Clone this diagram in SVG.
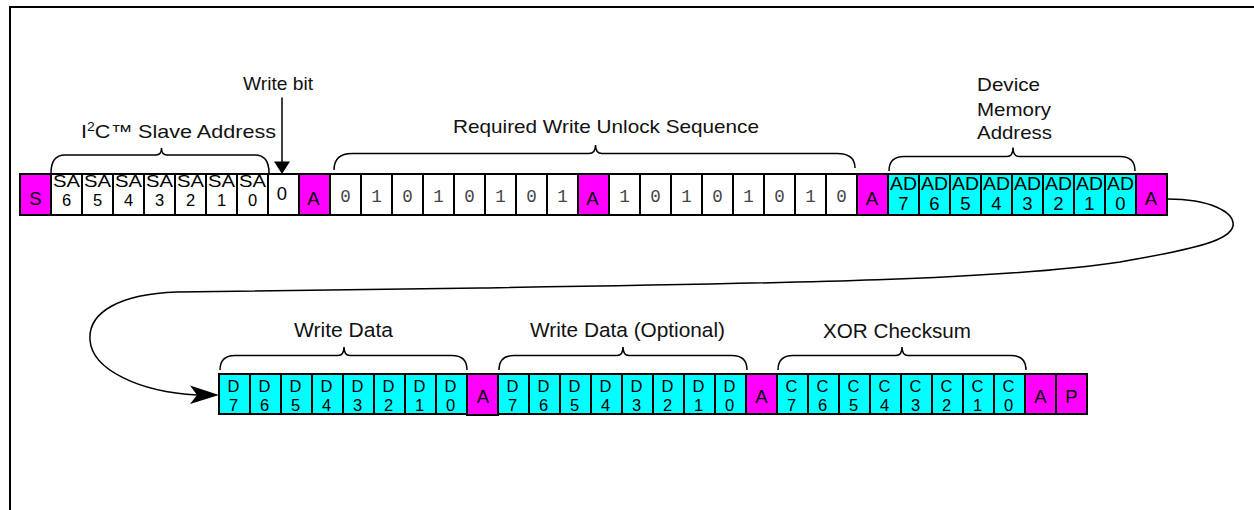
<svg xmlns="http://www.w3.org/2000/svg" width="1254" height="510" viewBox="0 0 1254 510">
<style>
.cell{stroke:#000;stroke-width:2}
.m{fill:#ff00ff}.c{fill:#00ffff}.w{fill:#fff}
.t{font-family:"Liberation Sans",Arial,sans-serif;font-size:18.5px;fill:#000;text-anchor:middle}
.sa{font-family:"Liberation Sans",Arial,sans-serif;font-size:16.5px;fill:#000;text-anchor:middle}
.s{font-family:"Liberation Sans",Arial,sans-serif;font-size:16.5px;fill:#000;text-anchor:middle}
.b{font-family:"Liberation Mono","Courier New",monospace;font-size:17.5px;fill:#444;text-anchor:middle}
.lbl{font-family:"Liberation Sans",Arial,sans-serif;font-size:18.5px;fill:#111}
.lbl2{font-family:"Liberation Sans",Arial,sans-serif;font-size:20.5px;fill:#111}
.br{fill:none;stroke:#000;stroke-width:1.5}
.ln{fill:none;stroke:#000;stroke-width:1.5}
</style>
<g id="frame"><path d="M10,7 H1254 M10,6 V510" fill="none" stroke="#000" stroke-width="2"/></g>

<g id="labels">
<text class="lbl" x="81" y="137.5" textLength="195" lengthAdjust="spacingAndGlyphs">I<tspan font-size="12" dy="-7">2</tspan><tspan dy="7">C™ Slave Address</tspan></text>
<text class="lbl" x="243" y="89.5" textLength="70" lengthAdjust="spacingAndGlyphs">Write bit</text>
<text class="lbl" x="453" y="132.5" textLength="306" lengthAdjust="spacingAndGlyphs">Required Write Unlock Sequence</text>
<text class="lbl" x="977" y="91" textLength="63" lengthAdjust="spacingAndGlyphs">Device</text>
<text class="lbl" x="977" y="115.5" textLength="74" lengthAdjust="spacingAndGlyphs">Memory</text>
<text class="lbl" x="977" y="139" textLength="75" lengthAdjust="spacingAndGlyphs">Address</text>
<text class="lbl2" x="294" y="337" textLength="99" lengthAdjust="spacingAndGlyphs">Write Data</text>
<text class="lbl2" x="530" y="337" textLength="195" lengthAdjust="spacingAndGlyphs">Write Data (Optional)</text>
<text class="lbl2" x="823" y="338" textLength="148" lengthAdjust="spacingAndGlyphs">XOR Checksum</text>
</g>

<g id="braces">
<path class="br" d="M51,173 Q51,155 65,155 L156,155 Q161.5,155 161.5,148 Q161.5,155 167,155 L255,155 Q269,155 269,173"/>
<path class="br" d="M334,170 Q334,153.5 352,153.5 L589,153.5 Q595.5,153.5 595.5,145 Q595.5,153.5 602,153.5 L837,153.5 Q855,153.5 855,168"/>
<path class="br" d="M889,171 Q889,156.5 904,156.5 L1007,156.5 Q1013,156.5 1013,147.5 Q1013,156.5 1019,156.5 L1120,156.5 Q1135,156.5 1135,171"/>
<path class="br" d="M220,370 Q220,355.5 235,355.5 L338,355.5 Q344,355.5 344,347 Q344,355.5 350,355.5 L452,355.5 Q467,355.5 467,370"/>
<path class="br" d="M499,370 Q499,355.5 514,355.5 L617,355.5 Q623,355.5 623,347 Q623,355.5 629,355.5 L732,355.5 Q747,355.5 747,370"/>
<path class="br" d="M778,370 Q778,355.5 793,355.5 L896,355.5 Q902,355.5 902,347 Q902,355.5 908,355.5 L1011,355.5 Q1026,355.5 1026,370"/>
</g>

<g id="connectors">
<line class="ln" x1="282" y1="97.5" x2="282" y2="163" stroke-width="2"/>
<polygon points="274,161.5 290,161.5 282,174" fill="#000"/>
<path class="ln" d="M1167,199 C1210,199 1235,212 1233,226 C1230,240 1200,248 1120,262 C1000,280 800,283 480,288 L177,292 C120,294 88,312 90,340 C92,370 140,392 197,395"/>
<polygon points="219,395 190,385.5 197,395 190,404" fill="#000"/>
</g>

<g id="row1">
<g id="S"><rect class="cell m" x="20" y="174" width="31" height="41"/><text class="t" x="35.5" y="205">S</text></g>
<g id="SA6"><rect class="cell w" x="51" y="174" width="31" height="41"/><text class="sa" x="66.5" y="187" textLength="27" lengthAdjust="spacingAndGlyphs">SA</text><text class="sa" x="66.5" y="205.5">6</text></g>
<g id="SA5"><rect class="cell w" x="82" y="174" width="31" height="41"/><text class="sa" x="97.5" y="187" textLength="27" lengthAdjust="spacingAndGlyphs">SA</text><text class="sa" x="97.5" y="205.5">5</text></g>
<g id="SA4"><rect class="cell w" x="113" y="174" width="31" height="41"/><text class="sa" x="128.5" y="187" textLength="27" lengthAdjust="spacingAndGlyphs">SA</text><text class="sa" x="128.5" y="205.5">4</text></g>
<g id="SA3"><rect class="cell w" x="144" y="174" width="31" height="41"/><text class="sa" x="159.5" y="187" textLength="27" lengthAdjust="spacingAndGlyphs">SA</text><text class="sa" x="159.5" y="205.5">3</text></g>
<g id="SA2"><rect class="cell w" x="175" y="174" width="31" height="41"/><text class="sa" x="190.5" y="187" textLength="27" lengthAdjust="spacingAndGlyphs">SA</text><text class="sa" x="190.5" y="205.5">2</text></g>
<g id="SA1"><rect class="cell w" x="206" y="174" width="31" height="41"/><text class="sa" x="221.5" y="187" textLength="27" lengthAdjust="spacingAndGlyphs">SA</text><text class="sa" x="221.5" y="205.5">1</text></g>
<g id="SA0"><rect class="cell w" x="237" y="174" width="31" height="41"/><text class="sa" x="252.5" y="187" textLength="27" lengthAdjust="spacingAndGlyphs">SA</text><text class="sa" x="252.5" y="205.5">0</text></g>
<g id="RW"><rect class="cell w" x="268" y="174" width="31" height="41"/><text class="t" x="282" y="200">0</text></g>
<g id="A1"><rect class="cell m" x="299" y="174" width="31" height="41"/><text class="t" x="313.5" y="205">A</text></g>
<g id="U1">
<rect class="cell w" x="330" y="174" width="31" height="41"/><text class="b" x="345.5" y="201.5">0</text>
<rect class="cell w" x="361" y="174" width="31" height="41"/><text class="b" x="376.5" y="201.5">1</text>
<rect class="cell w" x="392" y="174" width="31" height="41"/><text class="b" x="407.5" y="201.5">0</text>
<rect class="cell w" x="423" y="174" width="31" height="41"/><text class="b" x="438.5" y="201.5">1</text>
<rect class="cell w" x="454" y="174" width="31" height="41"/><text class="b" x="469.5" y="201.5">0</text>
<rect class="cell w" x="485" y="174" width="31" height="41"/><text class="b" x="500.5" y="201.5">1</text>
<rect class="cell w" x="516" y="174" width="31" height="41"/><text class="b" x="531.5" y="201.5">0</text>
<rect class="cell w" x="547" y="174" width="31" height="41"/><text class="b" x="562.5" y="201.5">1</text>
</g>
<g id="A2"><rect class="cell m" x="578" y="174" width="31" height="41"/><text class="t" x="592.5" y="205">A</text></g>
<g id="U2">
<rect class="cell w" x="609" y="174" width="31" height="41"/><text class="b" x="624.5" y="201.5">1</text>
<rect class="cell w" x="640" y="174" width="31" height="41"/><text class="b" x="655.5" y="201.5">0</text>
<rect class="cell w" x="671" y="174" width="31" height="41"/><text class="b" x="686.5" y="201.5">1</text>
<rect class="cell w" x="702" y="174" width="31" height="41"/><text class="b" x="717.5" y="201.5">0</text>
<rect class="cell w" x="733" y="174" width="31" height="41"/><text class="b" x="748.5" y="201.5">1</text>
<rect class="cell w" x="764" y="174" width="31" height="41"/><text class="b" x="779.5" y="201.5">0</text>
<rect class="cell w" x="795" y="174" width="31" height="41"/><text class="b" x="810.5" y="201.5">1</text>
<rect class="cell w" x="826" y="174" width="31" height="41"/><text class="b" x="841.5" y="201.5">0</text>
</g>
<g id="A3"><rect class="cell m" x="857" y="174" width="31" height="41"/><text class="t" x="872" y="205">A</text></g>
<g id="AD">
<rect class="cell c" x="888" y="174" width="31" height="41"/><text class="t" x="903.5" y="190" textLength="27" lengthAdjust="spacingAndGlyphs">AD</text><text class="t" x="903.5" y="210">7</text>
<rect class="cell c" x="919" y="174" width="31" height="41"/><text class="t" x="934.5" y="190" textLength="27" lengthAdjust="spacingAndGlyphs">AD</text><text class="t" x="934.5" y="210">6</text>
<rect class="cell c" x="950" y="174" width="31" height="41"/><text class="t" x="965.5" y="190" textLength="27" lengthAdjust="spacingAndGlyphs">AD</text><text class="t" x="965.5" y="210">5</text>
<rect class="cell c" x="981" y="174" width="31" height="41"/><text class="t" x="996.5" y="190" textLength="27" lengthAdjust="spacingAndGlyphs">AD</text><text class="t" x="996.5" y="210">4</text>
<rect class="cell c" x="1012" y="174" width="31" height="41"/><text class="t" x="1027.5" y="190" textLength="27" lengthAdjust="spacingAndGlyphs">AD</text><text class="t" x="1027.5" y="210">3</text>
<rect class="cell c" x="1043" y="174" width="31" height="41"/><text class="t" x="1058.5" y="190" textLength="27" lengthAdjust="spacingAndGlyphs">AD</text><text class="t" x="1058.5" y="210">2</text>
<rect class="cell c" x="1074" y="174" width="31" height="41"/><text class="t" x="1089.5" y="190" textLength="27" lengthAdjust="spacingAndGlyphs">AD</text><text class="t" x="1089.5" y="210">1</text>
<rect class="cell c" x="1105" y="174" width="31" height="41"/><text class="t" x="1120.5" y="190" textLength="27" lengthAdjust="spacingAndGlyphs">AD</text><text class="t" x="1120.5" y="210">0</text>
</g>
<g id="A4"><rect class="cell m" x="1136" y="174" width="31" height="41"/><text class="t" x="1151" y="205">A</text></g>
</g>

<g id="row2">
<g id="WD1">
<rect class="cell c" x="219" y="374" width="31" height="40"/><text class="s" x="233.5" y="392">D</text><text class="s" x="233.5" y="410.5">7</text>
<rect class="cell c" x="250" y="374" width="31" height="40"/><text class="s" x="264.5" y="392">D</text><text class="s" x="264.5" y="410.5">6</text>
<rect class="cell c" x="281" y="374" width="31" height="40"/><text class="s" x="295.5" y="392">D</text><text class="s" x="295.5" y="410.5">5</text>
<rect class="cell c" x="312" y="374" width="31" height="40"/><text class="s" x="326.5" y="392">D</text><text class="s" x="326.5" y="410.5">4</text>
<rect class="cell c" x="343" y="374" width="31" height="40"/><text class="s" x="357.5" y="392">D</text><text class="s" x="357.5" y="410.5">3</text>
<rect class="cell c" x="374" y="374" width="31" height="40"/><text class="s" x="388.5" y="392">D</text><text class="s" x="388.5" y="410.5">2</text>
<rect class="cell c" x="405" y="374" width="31" height="40"/><text class="s" x="419.5" y="392">D</text><text class="s" x="419.5" y="410.5">1</text>
<rect class="cell c" x="436" y="374" width="31" height="40"/><text class="s" x="450.5" y="392">D</text><text class="s" x="450.5" y="410.5">0</text>
</g>
<g id="A5"><rect class="cell m" x="467" y="374" width="31" height="41"/><text class="t" x="483" y="403">A</text></g>
<g id="WD2">
<rect class="cell c" x="498" y="374" width="31" height="40"/><text class="s" x="512.5" y="392">D</text><text class="s" x="512.5" y="410.5">7</text>
<rect class="cell c" x="529" y="374" width="31" height="40"/><text class="s" x="543.5" y="392">D</text><text class="s" x="543.5" y="410.5">6</text>
<rect class="cell c" x="560" y="374" width="31" height="40"/><text class="s" x="574.5" y="392">D</text><text class="s" x="574.5" y="410.5">5</text>
<rect class="cell c" x="591" y="374" width="31" height="40"/><text class="s" x="605.5" y="392">D</text><text class="s" x="605.5" y="410.5">4</text>
<rect class="cell c" x="622" y="374" width="31" height="40"/><text class="s" x="636.5" y="392">D</text><text class="s" x="636.5" y="410.5">3</text>
<rect class="cell c" x="653" y="374" width="31" height="40"/><text class="s" x="667.5" y="392">D</text><text class="s" x="667.5" y="410.5">2</text>
<rect class="cell c" x="684" y="374" width="31" height="40"/><text class="s" x="698.5" y="392">D</text><text class="s" x="698.5" y="410.5">1</text>
<rect class="cell c" x="715" y="374" width="31" height="40"/><text class="s" x="729.5" y="392">D</text><text class="s" x="729.5" y="410.5">0</text>
</g>
<g id="A6"><rect class="cell m" x="746" y="374" width="31" height="40"/><text class="t" x="761.5" y="403">A</text></g>
<g id="CS">
<rect class="cell c" x="777" y="374" width="31" height="40"/><text class="s" x="791.5" y="392">C</text><text class="s" x="791.5" y="410.5">7</text>
<rect class="cell c" x="808" y="374" width="31" height="40"/><text class="s" x="822.5" y="392">C</text><text class="s" x="822.5" y="410.5">6</text>
<rect class="cell c" x="839" y="374" width="31" height="40"/><text class="s" x="853.5" y="392">C</text><text class="s" x="853.5" y="410.5">5</text>
<rect class="cell c" x="870" y="374" width="31" height="40"/><text class="s" x="884.5" y="392">C</text><text class="s" x="884.5" y="410.5">4</text>
<rect class="cell c" x="901" y="374" width="31" height="40"/><text class="s" x="915.5" y="392">C</text><text class="s" x="915.5" y="410.5">3</text>
<rect class="cell c" x="932" y="374" width="31" height="40"/><text class="s" x="946.5" y="392">C</text><text class="s" x="946.5" y="410.5">2</text>
<rect class="cell c" x="963" y="374" width="31" height="40"/><text class="s" x="977.5" y="392">C</text><text class="s" x="977.5" y="410.5">1</text>
<rect class="cell c" x="994" y="374" width="31" height="40"/><text class="s" x="1008.5" y="392">C</text><text class="s" x="1008.5" y="410.5">0</text>
</g>
<g id="A7"><rect class="cell m" x="1025" y="374" width="31" height="40"/><text class="t" x="1040.5" y="403">A</text></g>
<g id="P"><rect class="cell m" x="1056" y="374" width="31" height="40"/><text class="t" x="1071.5" y="403">P</text></g>
</g>
</svg>
